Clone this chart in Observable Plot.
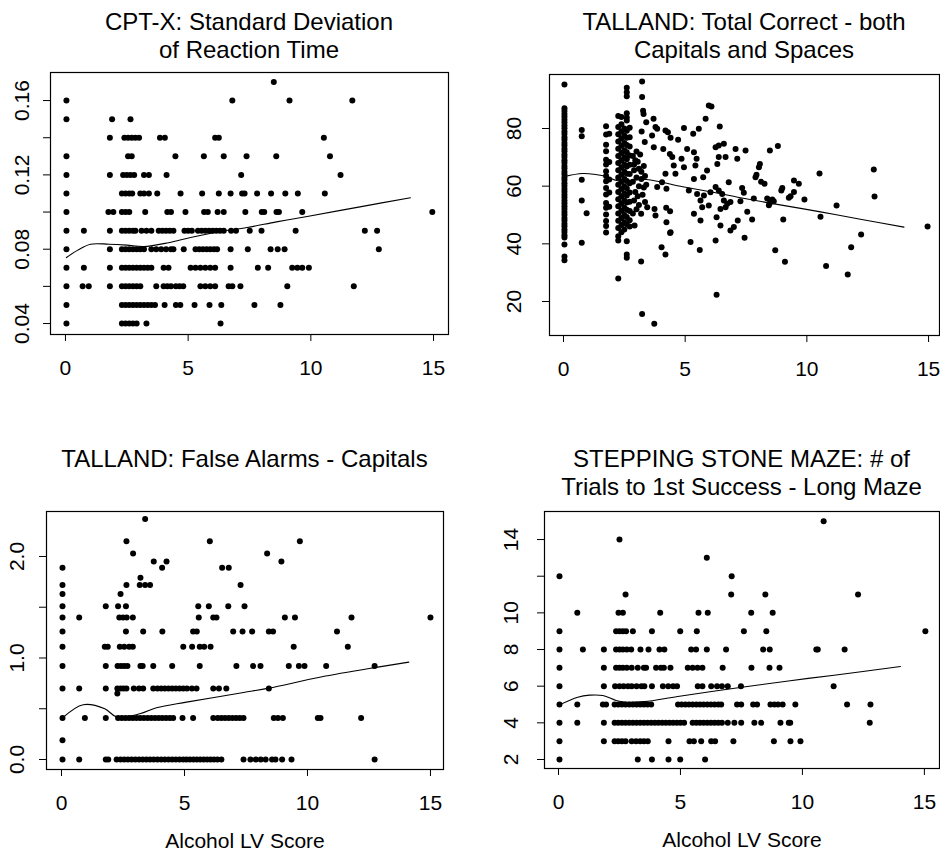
<!DOCTYPE html>
<html>
<head>
<meta charset="utf-8">
<script src="https://cdn.jsdelivr.net/npm/d3@7"></script>
<script src="https://cdn.jsdelivr.net/npm/@observablehq/plot@0.6"></script>
<style>
  body { margin: 0; background: #fff; }
  #wrap { position: relative; width: 940px; height: 852px; overflow: hidden; font-family: "Liberation Sans", Arial, Helvetica, sans-serif; color: #000; }
  .panel { position: absolute; width: 470px; height: 426px; }
  .panel svg { position: absolute; left: 0; top: 0; }
  .title { position: absolute; text-align: center; font-size: 24px; line-height: 28px; white-space: nowrap; color: #000; }
</style>
</head>
<body>
<div id="wrap"></div>
<script>
// ---------------- DATA ----------------
const titles = [
  ["CPT-X: Standard Deviation", "of Reaction Time"],
  ["TALLAND: Total Correct - both", "Capitals and Spaces"],
  ["TALLAND: False Alarms - Capitals"],
  ["STEPPING STONE MAZE: # of", "Trials to 1st Success - Long Maze"]
];
const xAxisLabel = "Alcohol LV Score";
const xTicks = [0, 5, 10, 15];

const cptYTicks = [0.04, 0.06, 0.08, 0.10, 0.12, 0.14, 0.16];
const cptYLabels = [0.04, 0.08, 0.12, 0.16];
const talYTicks = [20, 40, 60, 80];
const talYLabels = [20, 40, 60, 80];
const faYTicks = [0, 0.5, 1.0, 1.5, 2.0];
const faYLabels = [0, 1, 2];
const mazeYTicks = [2, 4, 6, 8, 10, 12, 14];
const mazeYLabels = [2, 4, 6, 8, 10, 14];

// CPT-X: rows [y, [x values]]
const cptRows = [
  [0.17, [8.49]],
  [0.16, [0.04, 6.8, 9.13, 11.69]],
  [0.15, [0.04, 1.9, 2.65]],
  [0.14, [1.81, 2.4, 2.55, 2.7, 2.85, 3.0, 3.85, 4.05, 6.1, 6.25, 10.53]],
  [0.13, [0.04, 2.55, 2.7, 4.48, 5.64, 6.45, 7.38, 8.59, 10.78]],
  [0.12, [0.04, 1.81, 2.35, 2.5, 2.65, 2.8, 3.2, 3.4, 4.12, 7.16, 11.21]],
  [0.11, [0.04, 2.3, 2.45, 2.6, 2.72, 3.05, 3.2, 3.4, 3.74, 4.69, 5.57, 6.25, 6.73, 7.2, 7.3, 7.81, 8.38, 8.96, 9.47, 10.57]],
  [0.10, [0.04, 1.75, 1.95, 2.3, 2.45, 2.6, 3.25, 4.15, 4.3, 4.89, 5.65, 5.8, 6.2, 6.45, 7.33, 8.0, 8.1, 8.6, 8.7, 9.65, 14.95]],
  [0.09, [0.04, 0.75, 1.81, 2.3, 2.45, 2.6, 2.75, 2.85, 3.1, 3.3, 3.5, 3.8, 3.95, 4.1, 4.25, 4.4, 4.85, 5.0, 5.15, 5.4, 5.55, 5.7, 5.85, 6.0, 6.15, 6.3, 6.45, 6.75, 6.95, 7.51, 7.99, 9.38, 12.2, 12.7]],
  [0.08, [0.04, 1.81, 2.3, 2.45, 2.6, 2.75, 2.9, 3.05, 3.2, 3.5, 3.7, 3.9, 4.1, 4.3, 4.4, 4.82, 5.3, 5.45, 5.6, 5.75, 5.9, 6.05, 6.18, 6.73, 7.43, 8.36, 8.65, 8.93, 12.77]],
  [0.07, [0.04, 0.75, 1.81, 2.3, 2.45, 2.6, 2.75, 2.9, 3.05, 3.2, 3.35, 3.5, 4.0, 4.2, 5.1, 5.3, 5.5, 5.7, 5.9, 6.1, 6.73, 7.84, 8.26, 9.24, 9.45, 9.65, 9.92]],
  [0.06, [0.04, 0.7, 0.95, 1.81, 2.3, 2.45, 2.6, 2.75, 2.9, 3.05, 3.7, 4.0, 4.15, 4.3, 4.5, 4.65, 4.8, 5.5, 5.7, 5.9, 6.1, 6.65, 6.8, 7.13, 9.04, 11.75]],
  [0.05, [0.04, 2.3, 2.45, 2.6, 2.75, 2.9, 3.05, 3.2, 3.35, 3.5, 3.65, 4.04, 4.5, 4.68, 5.26, 5.87, 6.35, 7.7, 8.76]],
  [0.04, [0.04, 2.3, 2.45, 2.6, 2.75, 2.9, 3.3, 6.32]]
];
const cptSmooth = [[0.04,0.0755],[0.5,0.0795],[1.02,0.0827],[1.77,0.0827],[2.5,0.0822],[3.19,0.0814],[4.2,0.0835],[5.1,0.0863],[6.2,0.0893],[7.4,0.0917],[8.6,0.0947],[9.85,0.0976],[12.0,0.1028],[14.06,0.1077]];

// TALLAND Total Correct: columns [x, [y values]] plus scattered [x, y] points
const talColumns = [
  [0.04, [95.3, 87.0, 86.1, 85.0, 84.1, 83.0, 82.1, 81.0, 80.1, 79.0, 78.1, 77.0, 76.1, 75.0, 74.1, 73.0, 72.1, 71.0, 70.1, 69.0, 68.1, 67.0, 66.1, 65.0, 64.1, 63.0, 62.1, 61.0, 60.1, 59.0, 58.1, 57.0, 56.1, 55.0, 54.1, 53.0, 52.1, 51.0, 50.1, 49.0, 48.1, 47.0, 46.1, 45.0, 44.1, 43.0, 42.2, 39.8, 35.6, 34.3]],
  [0.75, [79.5, 77.3, 62.2, 55.0, 40.4]],
  [0.95, [50.6]],
  [1.75, [80.8, 77.9, 74.4, 72.1, 69.2, 67.5, 65.2, 63.5, 61.7, 59.4, 57.1, 54.2, 52.5, 50.2, 47.9, 46.2, 43.9]],
  [1.88, [78.2, 68.4, 62.3, 57.8, 52.9]],
  [2.25, [84.3, 80.5, 78.0, 75.5, 73.0, 70.5, 68.0, 65.5, 63.0, 60.5, 58.0, 55.5, 53.0, 50.5, 48.0, 45.5, 42.6, 41.2, 28.0]],
  [2.38, [84.0, 81.5, 79.0, 76.5, 74.0, 71.5, 69.0, 66.5, 64.0, 61.5, 59.0, 56.5, 54.0, 51.5, 49.0, 46.5, 44.0]],
  [2.5, [80.0, 77.5, 75.0, 72.5, 70.0, 67.5, 65.0, 62.5, 60.0, 57.5, 55.0, 52.5, 50.0, 47.5, 45.0]],
  [2.6, [94.1, 92.6, 91.2, 85.3, 83.8, 82.8, 79.2, 76.8, 74.3, 71.8, 69.3, 66.8, 64.3, 61.8, 59.3, 56.8, 54.3, 51.8, 49.3, 46.8, 40.9, 36.3, 35.2]],
  [2.72, [80.3, 77.0, 73.8, 70.6, 67.4, 64.2, 61.0, 57.8, 54.6, 51.4, 48.2, 46.0]]
];
const talScatter = [
  [2.85,70.5],[2.95,69],[3.05,68.5],[3.1,66],[2.9,65.5],[3.0,63],[3.2,62.5],[2.85,61.5],[3.1,60],[3.3,59.5],[2.95,58],[3.05,56.5],[3.25,57],[2.9,55],[3.1,53.5],[3.35,54.5],[3.0,52],[2.85,50.5],[3.2,65],[3.35,63.5],[3.0,72],[3.15,71],[2.9,67.5],[3.4,60.5],[3.3,67],
  [3.23,96.3],[3.23,90.9],[3.27,86.2],[3.29,85.0],[3.4,82.2],[3.7,83.4],[3.21,79.0],[3.34,75.3],[3.64,77.6],[3.78,80.5],[3.85,79.9],[4.19,79.3],[4.29,78.7],[4.40,76.8],[4.71,76.1],[3.71,73.5],[4.10,72.9],[4.37,71.2],[4.47,70.1],[4.95,80.2],[5.08,72.9],[4.85,69.5],[4.53,67.2],[4.60,64.3],[4.95,66.6],[5.33,78.2],[5.56,79.9],[5.84,83.4],[5.97,88.0],[6.08,87.6],[6.42,80.7],[5.36,71.8],[5.47,69.5],[5.42,67.2],[5.36,62.5],[5.74,63.1],[5.90,65.4],[6.25,73.5],[6.38,74.1],[6.59,74.7],[6.38,70.1],[6.32,67.7],[6.66,70.1],[7.07,72.9],[7.14,69.5],[6.79,61.4],[4.19,64.3],[3.85,59.7],[4.23,59.1],[4.05,61.4],[5.15,58.5],[5.49,57.3],[5.77,56.8],[6.04,57.9],[5.63,55.0],[5.70,52.7],[5.97,53.3],[6.25,59.7],[6.38,58.5],[6.52,57.3],[6.59,55.0],[6.73,53.9],[6.86,54.5],[6.66,52.7],[6.45,52.1],[7.16,48.1],[6.86,44.6],[7.00,45.8],[6.29,49.2],[6.45,46.4],[6.25,41.2],[5.63,48.1],[5.36,50.4],[5.60,37.9],[5.22,40.6],[4.40,44.0],[4.23,47.5],[4.03,38.8],[4.19,36.3],[3.74,52.1],[3.78,49.8],[3.44,52.7],[3.19,50.4],[2.92,46.4],[3.19,33.9],[3.23,15.7],[3.73,12.3],[6.29,22.3],[4.22,52.5],[4.38,51.3],[4.38,43.8],
  [7.48,72.4],[8.48,72.4],[8.81,73.9],[8.07,67.7],[8.03,66.6],[7.93,64.0],[7.89,63.1],[8.12,61.5],[8.26,60.8],[7.34,59.4],[7.41,57.7],[7.27,54.8],[7.82,55.7],[7.55,51.1],[7.75,48.4],[7.44,42.1],[8.37,55.7],[8.48,54.2],[8.58,55.4],[8.64,54.8],[8.44,53.4],[8.99,59.4],[8.95,58.5],[9.47,62.0],[9.67,60.8],[9.47,58.0],[9.33,56.5],[9.26,56.0],[9.03,48.4],[9.9,55.4],[8.7,37.8],[9.1,33.8],[10.52,64.4],[10.56,49.4],[11.22,53.3],[10.79,32.3],[11.68,29.4],[11.82,38.8],[12.23,43.2],[12.75,65.8],[12.78,56.4],[14.96,46.0]
];
const talSmooth = [[0.04,63.3],[0.79,64.4],[1.68,63.5],[2.23,61.9],[3.4,62.3],[4.9,59.8],[6.2,57.8],[7.27,56.0],[8.9,53.5],[10.56,51.1],[12.2,48.5],[13.99,45.8]];

// TALLAND False Alarms: rows [y, [x values]]
const faRows = [
  [2.37, [3.4]],
  [2.15, [2.64, 6.03, 9.69]],
  [2.03, [2.91, 8.36]],
  [1.95, [3.75, 4.27, 8.94]],
  [1.89, [0.04, 4.09, 6.53, 6.8]],
  [1.79, [3.21]],
  [1.72, [0.04, 2.64, 3.18, 3.4, 3.6, 7.28]],
  [1.63, [0.04, 2.4]],
  [1.51, [0.04, 1.8, 2.3, 2.62, 5.56, 5.99, 6.78, 7.44]],
  [1.40, [0.04, 0.72, 2.35, 2.5, 2.65, 2.9, 5.58, 6.17, 6.3, 9.08, 9.49, 11.79, 15.0]],
  [1.26, [0.04, 2.62, 3.32, 4.1, 5.35, 5.5, 6.98, 7.36, 7.75, 8.43, 8.6, 11.2]],
  [1.11, [0.04, 1.76, 1.88, 2.37, 2.55, 2.75, 2.9, 4.95, 5.31, 5.62, 5.8, 6.06, 9.44, 11.64]],
  [0.92, [0.04, 1.8, 2.28, 2.42, 2.55, 2.68, 3.21, 3.3, 3.73, 4.5, 5.62, 7.11, 7.79, 8.09, 9.24, 9.65, 9.88, 10.76, 12.73]],
  [0.70, [0.04, 0.72, 1.8, 2.27, 2.4, 2.52, 2.64, 2.94, 3.15, 3.32, 3.73, 3.9, 4.05, 4.2, 4.35, 4.5, 4.65, 4.8, 4.95, 5.1, 5.3, 5.49, 6.17, 6.4, 6.7, 8.43]],
  [0.65, [2.27]],
  [0.41, [0.04, 0.95, 1.8, 2.3, 2.45, 2.6, 2.75, 2.9, 3.05, 3.2, 3.35, 3.5, 3.65, 3.8, 3.95, 4.1, 4.25, 4.4, 4.54, 4.92, 5.35, 6.17, 6.35, 6.5, 6.65, 6.8, 6.95, 7.1, 7.25, 7.4, 8.63, 8.8, 9.0, 10.42, 10.53, 12.18]],
  [0.19, [0.04]],
  [0.0, [0.04, 0.72, 1.8, 1.9, 2.24, 2.4, 2.55, 2.7, 2.85, 3.0, 3.15, 3.3, 3.45, 3.6, 3.75, 3.9, 4.05, 4.2, 4.35, 4.5, 4.65, 4.8, 4.95, 5.08, 5.22, 5.36, 5.5, 5.64, 5.78, 5.92, 6.06, 6.2, 6.34, 6.5, 7.4, 7.68, 7.9, 8.1, 8.3, 8.56, 8.7, 8.97, 9.35, 12.73]]
];
const faSmooth = [[0.04,0.41],[0.88,0.54],[1.76,0.50],[2.24,0.42],[3.18,0.45],[3.86,0.509],[5.08,0.565],[7.4,0.66],[8.43,0.703],[10.5,0.81],[12.73,0.905],[14.12,0.959]];

// Stepping Stone Maze: rows [y, [x values]]
const mazeRows = [
  [15, [10.87]],
  [14, [2.5]],
  [13, [6.08]],
  [12, [0.04, 7.1]],
  [11, [2.75, 7.08, 8.48, 12.28]],
  [10, [0.77, 2.46, 2.64, 4.17, 5.74, 6.12, 7.9, 8.78]],
  [9, [0.04, 2.36, 2.5, 2.64, 2.77, 3.05, 3.83, 4.99, 5.67, 7.6, 8.52, 15.04]],
  [8, [0.04, 1.0, 1.86, 2.36, 2.5, 2.64, 2.8, 2.98, 3.36, 3.69, 4.14, 4.34, 5.44, 5.64, 6.08, 6.87, 8.39, 8.66, 10.57, 10.63, 11.73]],
  [7, [0.04, 1.86, 2.36, 2.5, 2.64, 2.8, 3.0, 3.25, 3.5, 3.59, 4.0, 4.2, 4.32, 4.59, 5.3, 5.5, 5.7, 5.9, 6.73, 7.91, 8.65, 9.06]],
  [6, [0.04, 1.86, 2.32, 2.5, 2.67, 2.85, 3.0, 3.2, 3.4, 3.52, 3.83, 4.28, 4.5, 4.7, 4.86, 5.71, 5.9, 6.26, 6.5, 6.7, 6.94, 7.48, 11.28]],
  [5, [0.04, 0.77, 1.82, 1.95, 2.3, 2.45, 2.6, 2.75, 2.9, 3.05, 3.2, 3.35, 3.5, 3.65, 3.8, 4.9, 5.05, 5.2, 5.35, 5.5, 5.65, 5.8, 5.95, 6.1, 6.25, 6.4, 6.55, 6.67, 7.32, 7.49, 7.98, 8.14, 8.69, 8.85, 9.0, 9.19, 9.71, 11.83, 12.79]],
  [4, [0.04, 0.77, 1.86, 2.3, 2.45, 2.6, 2.75, 2.9, 3.05, 3.2, 3.35, 3.5, 3.65, 3.8, 3.95, 4.1, 4.25, 4.4, 4.55, 4.7, 4.85, 5.0, 5.15, 5.5, 5.65, 5.8, 5.95, 6.1, 6.25, 6.4, 6.55, 6.7, 6.94, 7.21, 7.49, 8.03, 8.31, 9.1, 9.44, 9.5, 12.76]],
  [3, [0.04, 1.86, 2.3, 2.45, 2.6, 2.75, 3.0, 3.18, 3.35, 3.5, 3.66, 4.51, 5.37, 5.55, 5.85, 6.26, 6.42, 7.17, 8.83, 9.51, 9.92]],
  [2, [0.04, 3.25, 3.83, 4.51, 4.99, 6.01]]
];
const mazeSmooth = [[0.04,4.98],[0.79,5.4],[1.27,5.51],[1.82,5.49],[2.36,5.22],[2.7,5.13],[3.52,5.16],[4.89,5.44],[7.44,5.93],[9.5,6.3],[11.3,6.6],[14.02,7.07]];

// ---------------- BUILD ----------------
const fromRows = rows => rows.flatMap(([y, xs]) => xs.map(x => ({x, y})));
const fromCols = cols => cols.flatMap(([x, ys]) => ys.map(y => ({x, y})));
const pts = arr => arr.map(([x, y]) => ({x, y}));

const panels = [
  {left: 0, top: 0, mL: 50, mR: 22, mT: 72, mB: 92, xDom: [-0.61, 15.61], yDom: [0.0341, 0.1751],
   yTicks: cptYTicks, yLabels: cptYLabels, fmt: d3.format(".2f"), yOff: 28, titleTop: 8,
   points: fromRows(cptRows), smooth: pts(cptSmooth), title: titles[0], xlabel: false},
  {left: 470, top: 0, mL: 79, mR: 1, mT: 74, mB: 91, xDom: [-0.575, 15.45], yDom: [8.21, 98.73],
   yTicks: talYTicks, yLabels: talYLabels, fmt: d => String(d), yOff: 35, titleTop: 8,
   points: fromCols(talColumns).concat(pts(talScatter)), smooth: pts(talSmooth), title: titles[1], xlabel: false},
  {left: 0, top: 426, mL: 46, mR: 27, mT: 85, mB: 83, xDom: [-0.61, 15.53], yDom: [-0.0985, 2.443],
   yTicks: faYTicks, yLabels: faYLabels, fmt: d3.format(".1f"), yOff: 29, titleTop: 19,
   points: fromRows(faRows), smooth: pts(faSmooth), title: titles[2], xlabel: true},
  {left: 470, top: 426, mL: 74, mR: 1, mT: 85, mB: 84, xDom: [-0.574, 15.62], yDom: [1.509, 15.53],
   yTicks: mazeYTicks, yLabels: mazeYLabels, fmt: d => String(d), yOff: 33, titleTop: 19,
   points: fromRows(mazeRows), smooth: pts(mazeSmooth), title: titles[3], xlabel: true}
];

const wrap = document.getElementById("wrap");
for (const p of panels) {
  const div = document.createElement("div");
  div.className = "panel";
  div.style.left = p.left + "px";
  div.style.top = p.top + "px";

  const marks = [
    Plot.frame({stroke: "black", strokeWidth: 1.2}),
    Plot.axisX({ticks: xTicks, tickSize: 7, tickPadding: 19, tickFormat: d => String(d), fontSize: 21}),
    Plot.axisY({ticks: p.yTicks, tickSize: 7, tickFormat: () => ""}),
    Plot.text(p.yLabels, {y: d => d, text: d => p.fmt(d), frameAnchor: "left", dx: -p.yOff,
      rotate: -90, textAnchor: "middle", lineAnchor: "middle", fontSize: 21}),
    Plot.line(p.smooth, {x: "x", y: "y", stroke: "black", strokeWidth: 1.1, curve: "catmull-rom"}),
    Plot.dot(p.points, {x: "x", y: "y", r: 3.0, fill: "black"})
  ];
  if (p.xlabel) {
    marks.push(Plot.text([xAxisLabel], {text: d => d, frameAnchor: "bottom", dy: 72, lineAnchor: "middle", fontSize: 21}));
  }

  const chart = Plot.plot({
    width: 470, height: 426,
    marginLeft: p.mL, marginRight: p.mR, marginTop: p.mT, marginBottom: p.mB,
    x: {domain: p.xDom, label: null},
    y: {domain: p.yDom, label: null},
    style: {fontFamily: '"Liberation Sans", Arial, Helvetica, sans-serif', fontSize: "21px", color: "black", background: "transparent", overflow: "visible"},
    marks
  });
  div.appendChild(chart);

  const t = document.createElement("div");
  t.className = "title";
  t.style.left = p.mL + "px";
  t.style.width = (470 - p.mL - p.mR) + "px";
  t.style.top = p.titleTop + "px";
  t.innerHTML = p.title.map(s => s.replace(/&/g, "&amp;").replace(/</g, "&lt;")).join("<br>");
  div.appendChild(t);

  wrap.appendChild(div);
}
</script>
</body>
</html>
